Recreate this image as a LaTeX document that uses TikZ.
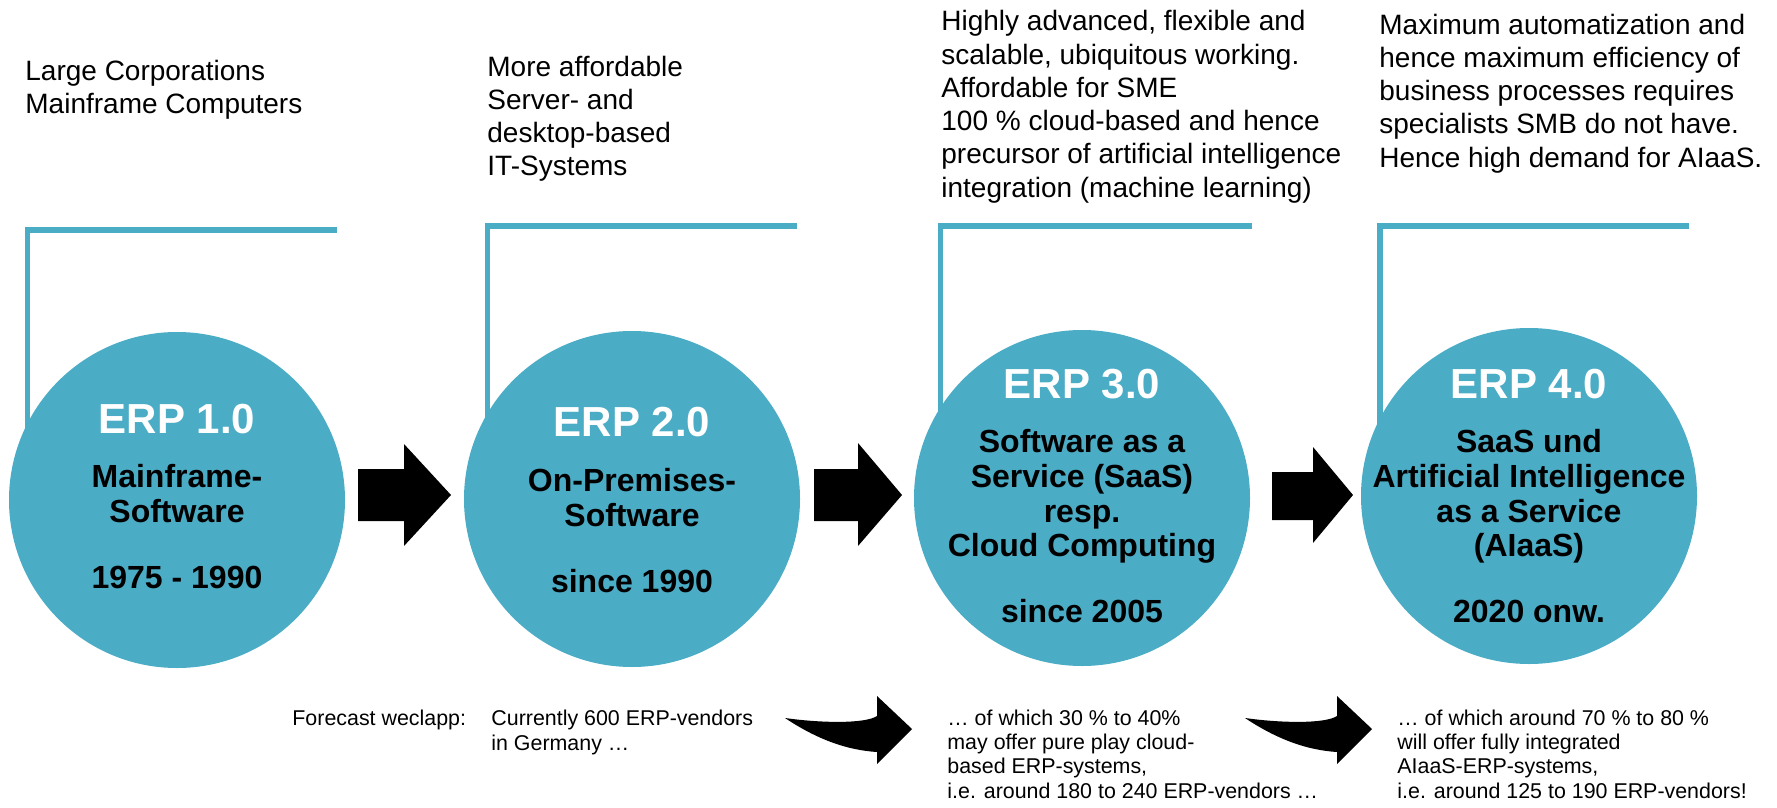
\documentclass[tikz,border=0pt]{standalone}
\usepackage{fontspec}
\setmainfont{Liberation Sans}
\definecolor{erpteal}{HTML}{4BACC6}
\begin{document}
\begin{tikzpicture}[x=0.5pt,y=-0.5pt,
  erpcircle/.style={circle, fill=erpteal, minimum size=168pt, inner sep=0pt},
  bracket/.style={draw=erpteal, line width=2.65pt},
  erptitle/.style={anchor=base, inner sep=0pt, text=white, font=\bfseries\fontsize{21}{24}\selectfont},
  erpbody/.style={anchor=base, inner sep=0pt, align=center, font=\bfseries\fontsize{16}{17.35}\selectfont},
  toptext/.style={anchor=base west, inner sep=0pt, align=left, font=\fontsize{14}{16.6}\selectfont},
  note/.style={anchor=base west, inner sep=0pt, align=left, font=\fontsize{10.7}{12.1}\selectfont},
  blockarrow/.style={fill=black},
]
\useasboundingbox (0,0) rectangle (1777,808);

% descriptive texts above the phases (anchored at the baseline of their last line)
\node[toptext] (t1) at (25,114) {Large Corporations\\Mainframe Computers};
\node[toptext] (t2) at (487,176) {More affordable\\Server- and\\desktop-based\\IT-Systems};
\node[toptext] (t3) at (941,197) {Highly advanced, flexible and\\scalable, ubiquitous working.\\Affordable for SME\\100 \% cloud-based and hence\\precursor of artificial intelligence\\integration (machine learning)};
\node[toptext] (t4) at (1379,167) {Maximum automatization and\\hence maximum efficiency of\\business processes requires\\specialists SMB do not have.\\Hence high demand for AIaaS.};

% brackets (drawn first, the circles cover their lower ends)
\draw[bracket] (27.7,470) |- (337,230);
\draw[bracket] (487.7,470) |- (797,226);
\draw[bracket] (940.7,470) |- (1252,226);
\draw[bracket] (1380,470) |- (1689,226);

% phase circles
\node[erpcircle] (c1) at (177,500) {};
\node[erpcircle] (c2) at (632,499) {};
\node[erpcircle] (c3) at (1082,498) {};
\node[erpcircle] (c4) at (1529,496) {};

\node[erptitle] (h1) at (177,433) {ERP 1.0};
\node[erpbody]  (b1) at (177,588) {Mainframe-\\Software\\[15.6pt]1975 - 1990};

\node[erptitle] (h2) at (632,436) {ERP 2.0};
\node[erpbody]  (b2) at (632,592) {On-Premises-\\Software\\[15.6pt]since 1990};

\node[erptitle] (h3) at (1082,398) {ERP 3.0};
\node[erpbody]  (b3) at (1082,622) {Software as a\\Service (SaaS)\\resp.\\Cloud Computing\\[15.2pt]since 2005};

\node[erptitle] (h4) at (1529,398) {ERP 4.0};
\node[erpbody]  (b4) at (1529,622) {SaaS und\\Artificial Intelligence\\as a Service\\(AIaaS)\\[15.2pt]2020 onw.};

% block arrows between the circles
\fill[blockarrow] (358,469) -- (404,469) -- (404,444) -- (451,495) -- (404,546) -- (404,521) -- (358,521) -- cycle;
\fill[blockarrow] (814,469) -- (858,469) -- (858,443) -- (902,495) -- (858,546) -- (858,521) -- (814,521) -- cycle;
\fill[blockarrow] (1272,472) -- (1313,472) -- (1313,447) -- (1353,495) -- (1313,543) -- (1313,520) -- (1272,520) -- cycle;

% forecast notes (anchored at the baseline of their last line)
\node[note] (f0) at (292,725) {Forecast weclapp:};
\node[note] (f1) at (491,750) {Currently 600 ERP-vendors\\in Germany …};
\node[note] (f2) at (947,798) {… of which 30 \% to 40\%\\may offer pure play cloud-\\based ERP-systems,\\i.e. around 180 to 240 ERP-vendors …};
\node[note] (f3) at (1397,798) {… of which around 70 \% to 80 \%\\will offer fully integrated\\AIaaS-ERP-systems,\\i.e. around 125 to 190 ERP-vendors!};

% curved arrows between the notes
\foreach \dx/\nm in {0/ca1, 460/ca2} {
  \begin{scope}[xshift=\dx*0.5pt]
    \coordinate (\nm) at (785,718);
    \fill[blockarrow] (\nm) .. controls (820,723) and (865,724) .. (877,716)
      -- (877,696) -- (912,729) -- (877,764) -- (877,752)
      .. controls (845,750) and (815,738) .. (\nm) -- cycle;
  \end{scope}
}
\end{tikzpicture}
\end{document}
